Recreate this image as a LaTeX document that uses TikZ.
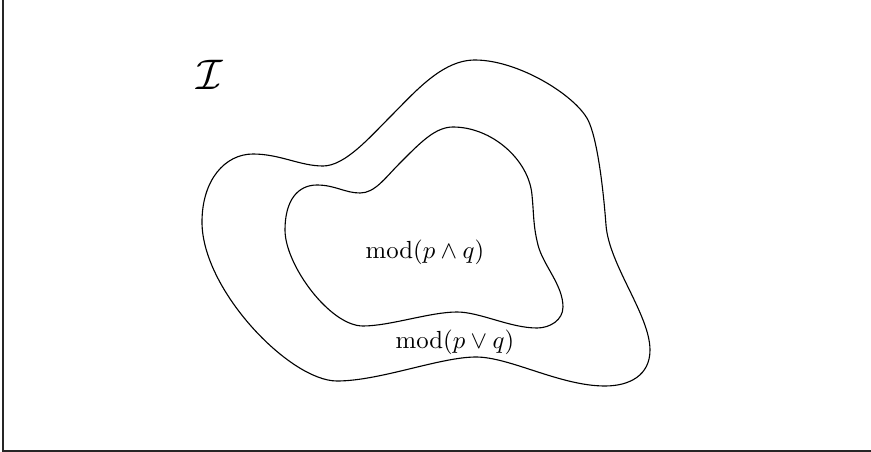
\documentclass[tikz,border=0pt]{standalone}
\usepackage{amsmath}
\begin{document}
\begin{tikzpicture}[x=0.404pt,y=-0.404pt,
  region/.style={line width=0.45pt},
  frameline/.style={line width=0.75pt, black!85},
  lbl/.style={inner sep=0pt}]
\useasboundingbox (0,0) rectangle (871,452);
\coordinate (ftop) at (3.2,0);
\coordinate (fcorner) at (3.2,450.6);
\coordinate (fright) at (871,450.6);
\draw[frameline] (ftop) -- (fcorner) -- (fright);
% outer region
\draw[region] (475,60)
  .. controls (518,60) and (575,95) .. (588,120)
  .. controls (597,138) and (603,185) .. (606,225)
  .. controls (609,265) and (650,315) .. (650,350)
  .. controls (650,375) and (630,386) .. (605,386)
  .. controls (560,386) and (510,357) .. (476,357)
  .. controls (440,357) and (380,381) .. (337,381)
  .. controls (290,381) and (202,290) .. (202,222)
  .. controls (202,180) and (225,154) .. (253,154)
  .. controls (280,154) and (300,166) .. (323,166)
  .. controls (345,166) and (370,137) .. (390,117)
  .. controls (415,92) and (442,60) .. cycle;
% inner region
\draw[region] (453,127)
  .. controls (492,127) and (529,160) .. (532,195)
  .. controls (534,215) and (533,225) .. (538,245)
  .. controls (543,265) and (563,285) .. (563,307)
  .. controls (563,320) and (550,328) .. (537,328)
  .. controls (510,328) and (480,312) .. (457,312)
  .. controls (430,312) and (390,326) .. (363,326)
  .. controls (330,326) and (285,265) .. (285,230)
  .. controls (285,200) and (298,185) .. (317,185)
  .. controls (335,185) and (345,193) .. (360,193)
  .. controls (375,193) and (385,178) .. (400,163)
  .. controls (420,143) and (435,127) .. cycle;
\node[lbl] (I) at (210,75) {\LARGE$\mathcal{I}$};
\node[lbl] (pq1) at (425,252) {$\mathrm{mod}(p\wedge q)$};
\node[lbl] (pq2) at (455,342) {$\mathrm{mod}(p\vee q)$};
\end{tikzpicture}
\end{document}
